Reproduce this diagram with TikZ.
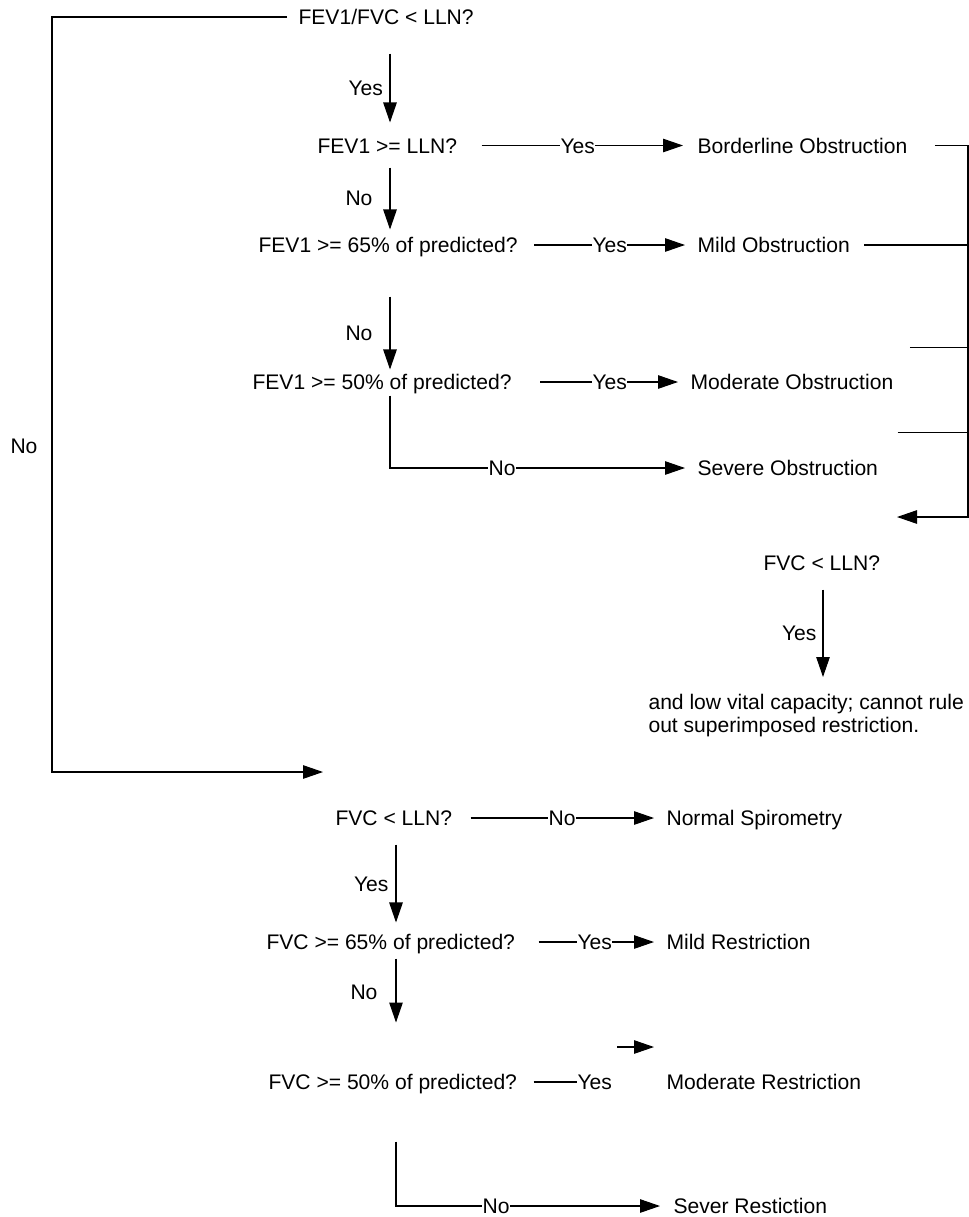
\documentclass[tikz,border=0pt]{standalone}
\usepackage{fontspec}
\setmainfont{Liberation Sans}
\usetikzlibrary{arrows.meta}
\tikzset{every path/.style={line width=0.6pt},
  txt/.style={anchor=base west, inner sep=0pt, text height=0.3cm, text depth=0pt, font=\fontsize{12}{13.1}\selectfont},
  lbl/.style={txt, anchor=base east},
  para/.style={anchor=north west, inner sep=0pt, align=left, font=\fontsize{12}{13.1}\selectfont},
  arr/.style={-{Triangle[length=0.4cm,width=0.27cm]}}}

\begin{document}
\begin{tikzpicture}[x=0.02cm,y=-0.02cm]
  \useasboundingbox (0,0) rectangle (969,1217);
  % obstruction branch
  \node[txt] (q1) at (298, 24.5) {FEV1/FVC < LLN?};
  \node[txt] (q2) at (317,153)   {FEV1 >= LLN?};
  \node[txt] (q3) at (258,252.5) {FEV1 >= 65\% of predicted?};
  \node[txt] (q4) at (252,389.5) {FEV1 >= 50\% of predicted?};
  \node[txt] (o1) at (697,153)   {Borderline Obstruction};
  \node[txt] (o2) at (697,252.5) {Mild Obstruction};
  \node[txt] (o3) at (690,389.5) {Moderate Obstruction};
  \node[txt] (o4) at (697,475.5) {Severe Obstruction};
  \node[txt] (q5) at (763,570.5) {FVC < LLN?};
  \node[para] (n1) at (648,694) {and low vital capacity; cannot rule\\out superimposed restriction.};

  \node[lbl] (l1) at (383.5,95.5) {Yes};
  \node[txt] (l2) at (560,153)    {Yes};
  \node[lbl] (l3) at (373,205.5)  {No};
  \node[txt] (l4) at (592,252.5)  {Yes};
  \node[lbl] (l5) at (373,340.5)  {No};
  \node[txt] (l6) at (592,389.5)  {Yes};
  \node[txt] (l7) at (488,475.5)  {No};
  \node[lbl] (l8) at (817,640.5)  {Yes};
  \node[txt] (l9) at (10,453.5)   {No};

  % restriction branch
  \node[txt] (q6) at (335,825.5)  {FVC < LLN?};
  \node[txt] (q7) at (266,949.5)  {FVC >= 65\% of predicted?};
  \node[txt] (q8) at (268,1089.5) {FVC >= 50\% of predicted?};
  \node[txt] (o5) at (666,825.5)  {Normal Spirometry};
  \node[txt] (o6) at (666,949.5)  {Mild Restriction};
  \node[txt] (o7) at (666,1089.5) {Moderate Restriction};
  \node[txt] (o8) at (673,1213.5) {Sever Restiction};

  \node[txt] (l10) at (548,825.5)  {No};
  \node[lbl] (l11) at (389,891.5)  {Yes};
  \node[txt] (l12) at (577,949.5)  {Yes};
  \node[lbl] (l13) at (378,999.5)  {No};
  \node[txt] (l14) at (577,1089.5) {Yes};
  \node[txt] (l15) at (482,1213.5) {No};

  \coordinate (a1)   at (390,0);
  \coordinate (a5)   at (823,0);
  \coordinate (a6)   at (396,0);
  \coordinate (k1)   at (52,772);
  \coordinate (k2)   at (323,772);
  \coordinate (bus)  at (968,517);
  \coordinate (btip) at (897,517);

  \draw[arr, shorten <=0.22cm] (q1.west) -| (k1) -- (k2);

  \draw[arr, shorten <=0.57cm, shorten >=0.3cm]  (q1.south -| a1) -- (q2.north -| a1);
  \draw[arr, shorten <=0.28cm, shorten >=0.15cm] (q2.south -| a1) -- (q3.north -| a1);
  \draw[arr, shorten <=0.87cm, shorten >=0.09cm] (q3.south -| a1) -- (q4.north -| a1);
  \draw[shorten <=0.11cm] (q4.south -| a1) |- (l7);
  \draw[arr, shorten >=0.24cm] (l7) -- (o4);

  \draw[shorten <=0.48cm] (q2) -- (l2);
  \draw[arr, shorten >=0.28cm] (l2) -- (o1);
  \draw[shorten <=0.32cm] (q3) -- (l4);
  \draw[arr, shorten >=0.24cm] (l4) -- (o2);
  \draw[shorten <=0.56cm] (q4) -- (l6);
  \draw[arr, shorten >=0.24cm] (l6) -- (o3);

  \draw[arr, shorten <=0.54cm] (o1.east) -- (o1.east -| bus) -- (bus) -- (btip);
  \draw[shorten <=0.28cm] (o2.east) -- (o2.east -| bus);
  \draw ([shift={(16,-26.5)}]o3.north east) coordinate (m3) -- (m3 -| bus);
  \draw ([shift={(19,-27.5)}]o4.north east) coordinate (m4) -- (m4 -| bus);

  \draw[arr, shorten <=0.37cm, shorten >=0.34cm] (q5.south -| a5) -- (n1.north -| a5);

  \draw[shorten <=0.36cm] (q6) -- (l10);
  \draw[arr, shorten >=0.24cm] (l10) -- (o5);
  \draw[arr, shorten <=0.37cm, shorten >=0.23cm] (q6.south -| a6) -- (q7.north -| a6);
  \draw[shorten <=0.46cm] (q7) -- (l12);
  \draw[arr, shorten >=0.24cm] (l12) -- (o6);
  \draw[arr, shorten <=0.17cm, shorten >=1.03cm] (q7.south -| a6) -- (q8.north -| a6);
  \draw[shorten <=0.32cm] (q8) -- (l14);
  \draw[arr, shorten >=0.24cm] ([shift={(5,-35)}]l14.east) coordinate (m7) -- (m7 -| o7.west);
  \draw[shorten <=1.03cm] (q8.south -| a6) |- (l15);
  \draw[arr, shorten >=0.26cm] (l15) -- (o8);
\end{tikzpicture}
\end{document}
